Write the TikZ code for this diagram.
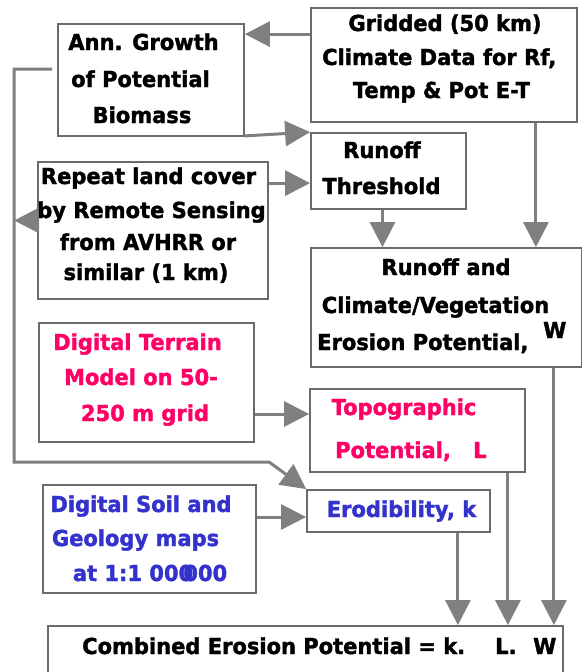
\documentclass[tikz,border=0pt]{standalone}
\usepackage{fontspec}
\setmainfont{DejaVu Sans}[BoldFeatures={FakeBold=1.6,FakeStretch=0.955}]
\usetikzlibrary{arrows.meta,calc}
\definecolor{lineg}{HTML}{808080}
\definecolor{boxg}{HTML}{6A6A6A}
\definecolor{pinkt}{HTML}{FF0066}
\definecolor{bluet}{HTML}{3333CC}
\begin{document}
\begin{tikzpicture}[x=1pt,y=-1pt,
  box/.style={draw=boxg, line width=1.8pt, fill=white, inner sep=0pt},
  txt/.style={anchor=base, inner sep=0pt, font=\fontsize{22}{26}\selectfont\bfseries},
  txtw/.style={txt, anchor=base west},
  pinktxt/.style={text=pinkt},
  bluetxt/.style={text=bluet},
  arr/.style={draw=lineg, line width=3pt, -{Triangle[length=25pt,width=25pt]}}]
\useasboundingbox (0,0) rectangle (583,672);
\clip (0,0) rectangle (583,672);
% boxes
\node[box, minimum width=186pt, minimum height=112pt] (A) at (151,80) {};
\node[box, minimum width=266pt, minimum height=114pt] (G) at (444,65) {};
\node[box, minimum width=155pt, minimum height=76pt] (R) at (388.5,171) {};
\node[box, minimum width=230pt, minimum height=137pt] (S) at (153,230.5) {};
\node[box, minimum width=270.5pt, minimum height=119pt] (W) at (446.25,307.5) {};
\node[box, minimum width=215pt, minimum height=119pt] (D) at (146.5,382.5) {};
\node[box, minimum width=215pt, minimum height=83pt] (T) at (417.5,430.5) {};
\node[box, minimum width=183pt, minimum height=42pt] (E) at (398.5,511) {};
\node[box, minimum width=213pt, minimum height=108pt] (K) at (149.5,539) {};
\node[box, minimum width=515pt, minimum height=74pt] (C) at (305.5,663) {};
% connectors
\coordinate (g1) at ($(G.north west)+(0,27)$);
\draw[arr] (g1) -- (g1 -| A.east);
\draw[arr] ($(A.south east)+(0,-1)$) -- (R.north west);
\coordinate (s1) at ($(S.north east)+(0,22)$);
\draw[arr] (s1) -- (s1 -| R.west);
\coordinate (a1) at ($(A.west)+(-5,-11)$);
\draw[arr] (a1) -- ++(-38,0) -- ++(0,393) -- ++(255,0) -- (E.north west);
\coordinate (s2) at ($(S.west)+(0,-10)$);
\draw[arr] (s2) -- ++(-23,0);
\coordinate (r1) at ($(R.south)+(-6,0)$);
\draw[arr] (r1) -- (r1 |- W.north);
\coordinate (g2) at ($(G.south east)+(-42,0)$);
\draw[arr] (g2) -- (g2 |- W.north);
\coordinate (d1) at ($(D.east)+(0,31.5)$);
\draw[arr] (d1) -- (d1 -| T.west);
\coordinate (k1) at ($(K.east)+(0,-22)$);
\draw[arr] (k1) -- (k1 -| E.west);
\coordinate (e1) at ($(E.south east)+(-33,0)$);
\draw[arr] (e1) -- (e1 |- C.north);
\coordinate (t1) at ($(T.south east)+(-18,0)$);
\draw[arr] (t1) -- (t1 |- C.north);
\coordinate (w1) at ($(W.south east)+(-28.5,0)$);
\draw[arr] (w1) -- (w1 |- C.north);
% texts
\node[txt] (tA1) at (143.5,50) {Ann. Growth};
\node[txt] (tA2) at (140.5,87) {of Potential};
\node[txt] (tA3) at (142,123) {Biomass};
\node[txt] (tG1) at (445,31) {Gridded (50 km)};
\node[txtw] (tG2) at (322,65) {Climate Data for Rf,};
\node[txt] (tG3) at (441.5,98) {Temp \& Pot E-T};
\node[txt] (tR1) at (382,158) {Runoff};
\node[txt] (tR2) at (381.5,194) {Threshold};
\node[txt] (tS1) at (148.5,184) {Repeat land cover};
\node[txt] (tS2) at (151.5,218) {by Remote Sensing};
\node[txt] (tS3) at (148,250) {from AVHRR or};
\node[txt] (tS4) at (146,280) {similar (1 km)};
\node[txt] (tW1) at (446,275) {Runoff and};
\node[txt] (tW2) at (435.5,313) {Climate/Vegetation};
\node[txtw] (tW3) at (317,350) {Erosion Potential,};
\node[txtw] (tW4) at (543,338) {W};
\node[txt, pinktxt] (tD1) at (137.5,350) {Digital Terrain};
\node[txt, pinktxt] (tD2) at (141,385) {Model on 50-};
\node[txt, pinktxt] (tD3) at (145,421) {250 m grid};
\node[txt, pinktxt] (tT1) at (404,415) {Topographic};
\node[txtw, pinktxt] (tT2) at (335,458) {Potential,};
\node[txtw, pinktxt] (tT3) at (473,458) {L};
\node[txt, bluetxt] (tE1) at (401.5,517) {Erodibility, k};
\node[txt, bluetxt] (tK1) at (141,512) {Digital Soil and};
\node[txt, bluetxt] (tK2) at (135.5,546) {Geology maps};
\node[txt, bluetxt] (tK3) at (150,581) {at 1:1 000\kern-0.45em000};
\node[txtw] (tC1) at (82,654) {Combined Erosion Potential = k.};
\node[txtw] (tC2) at (495,654) {L.};
\node[txtw] (tC3) at (533,654) {W};
\end{tikzpicture}
\end{document}
